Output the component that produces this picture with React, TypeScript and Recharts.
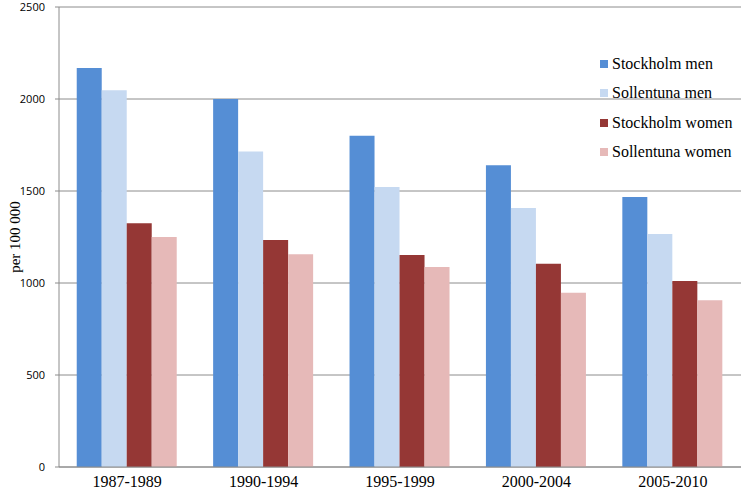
import React from 'react';
import { BarChart, Bar, XAxis, YAxis, CartesianGrid } from 'recharts';

const periods = ['1987-1989', '1990-1994', '1995-1999', '2000-2004', '2005-2010'];
const stockholmMen = [2168, 2000, 1800, 1640, 1467];
const sollentunaMen = [2047, 1714, 1522, 1407, 1266];
const stockholmWomen = [1325, 1234, 1152, 1105, 1011];
const sollentunaWomen = [1250, 1156, 1087, 947, 906];
const yTicks = [0, 500, 1000, 1500, 2000, 2500];

const series = [
  { key: 'stockholmMen', name: 'Stockholm men', color: '#558ED5' },
  { key: 'sollentunaMen', name: 'Sollentuna men', color: '#C6D9F1' },
  { key: 'stockholmWomen', name: 'Stockholm women', color: '#953735' },
  { key: 'sollentunaWomen', name: 'Sollentuna women', color: '#E6B9B8' },
];

const data = periods.map((p, i) => ({
  period: p,
  stockholmMen: stockholmMen[i],
  sollentunaMen: sollentunaMen[i],
  stockholmWomen: stockholmWomen[i],
  sollentunaWomen: sollentunaWomen[i],
}));

const SERIF = '"Liberation Serif", "Times New Roman", serif';
const SANS = '"Open Sans", "Liberation Sans", Arial, sans-serif';

// legend drawn as an overlay so it doesn't shrink the plot area
const LegendBox = () => (
  <div
    style={{
      position: 'absolute',
      left: 600,
      top: 49,
      fontFamily: SERIF,
      fontSize: 16,
      color: '#000',
    }}
  >
    {series.map((s) => (
      <div key={s.key} style={{ display: 'flex', alignItems: 'center', height: 29.5 }}>
        <span style={{ width: 8, height: 8, background: s.color, marginRight: 4 }} />
        <span>{s.name}</span>
      </div>
    ))}
  </div>
);

export default function App() {
  return (
    <div style={{ position: 'absolute', left: 0, top: 0, width: 743, height: 494, background: '#fff' }}>
      <BarChart
        width={743}
        height={494}
        data={data}
        margin={{ top: 7, right: 2, left: 0, bottom: 0 }}
        barCategoryGap="13%"
        barGap={0}
      >
        <CartesianGrid vertical={false} stroke="#8c8c8c" strokeWidth={1} />
        <XAxis
          dataKey="period"
          height={27}
          stroke="#8c8c8c"
          tickLine={false}
          tick={{ fill: '#000', fontFamily: SERIF, fontSize: 16 }}
          tickMargin={3}
        />
        <YAxis
          width={59}
          domain={[0, 2500]}
          ticks={yTicks}
          interval={0}
          stroke="#8c8c8c"
          tickSize={4}
          tickMargin={10}
          tick={{ fill: '#000', fontFamily: SANS, fontSize: 11 }}
          label={{
            value: 'per 100 000',
            angle: -90,
            position: 'insideLeft',
            offset: 15,
            style: { textAnchor: 'middle', fontFamily: SERIF, fontSize: 15, fill: '#000' },
          }}
        />
        {series.map((s) => (
          <Bar key={s.key} dataKey={s.key} name={s.name} fill={s.color} isAnimationActive={false} />
        ))}
      </BarChart>
      <LegendBox />
    </div>
  );
}
